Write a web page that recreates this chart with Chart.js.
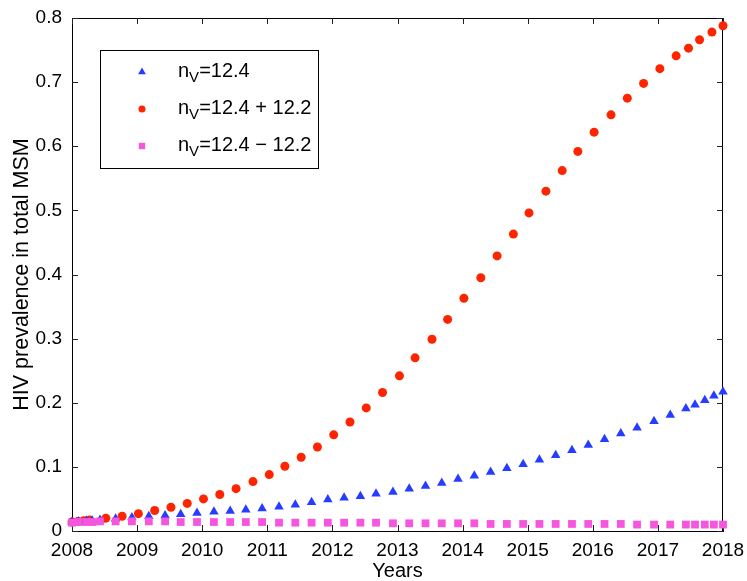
<!DOCTYPE html>
<html>
<head>
    <title>HIV prevalence</title>
    <script src="https://cdn.jsdelivr.net/npm/chart.js"></script>
    <style>
        body { margin: 0; background: #fff; }
        #wrap { width: 747px; height: 581px; }
    </style>
</head>
<body>
    <div id="wrap"><canvas id="myChart"></canvas></div>
    <script>
        // time points (years)
        const baseYears = [2008.0, 2008.1, 2008.22, 2008.31, 2008.43, 2008.67, 2008.92,
            2009.18, 2009.43, 2009.67, 2009.92, 2010.18, 2010.43, 2010.67, 2010.92,
            2011.18, 2011.43, 2011.68, 2011.93, 2012.18, 2012.43, 2012.67, 2012.93,
            2013.18, 2013.43, 2013.68, 2013.93, 2014.18, 2014.43, 2014.68, 2014.93,
            2015.18, 2015.43, 2015.68, 2015.93, 2016.18, 2016.43, 2016.68, 2016.94,
            2017.19, 2017.43, 2017.57, 2017.72, 2017.86, 2018.0];
        const baseValues = [0.014, 0.015, 0.016, 0.016, 0.017, 0.019, 0.021,
            0.023, 0.024, 0.026, 0.028, 0.030, 0.031, 0.033, 0.035,
            0.038, 0.041, 0.045, 0.049, 0.052, 0.054, 0.058, 0.061,
            0.066, 0.070, 0.075, 0.081, 0.086, 0.092, 0.098, 0.104,
            0.111, 0.118, 0.126, 0.134, 0.143, 0.152, 0.161, 0.171,
            0.181, 0.191, 0.197, 0.204, 0.211, 0.217];
        const lowValues = [0.013, 0.014, 0.014, 0.014, 0.015, 0.015, 0.015,
            0.015, 0.015, 0.014, 0.014, 0.014, 0.014, 0.014, 0.014,
            0.013, 0.013, 0.013, 0.013, 0.013, 0.013, 0.013, 0.012,
            0.012, 0.012, 0.012, 0.012, 0.012, 0.011, 0.011, 0.011,
            0.011, 0.011, 0.011, 0.011, 0.011, 0.011, 0.010, 0.010,
            0.010, 0.010, 0.010, 0.010, 0.010, 0.010];
        const highYears = [2008.0, 2008.09, 2008.18, 2008.27, 2008.52, 2008.77,
            2009.02, 2009.27, 2009.52, 2009.77, 2010.02, 2010.27, 2010.52, 2010.78,
            2011.03, 2011.27, 2011.52, 2011.77, 2012.02, 2012.27, 2012.52, 2012.77,
            2013.03, 2013.27, 2013.53, 2013.77, 2014.02, 2014.28, 2014.53, 2014.78,
            2015.02, 2015.28, 2015.53, 2015.77, 2016.02, 2016.28, 2016.53, 2016.78,
            2017.03, 2017.28, 2017.47, 2017.64, 2017.83, 2018.0];
        const highValues = [0.014, 0.015, 0.016, 0.017, 0.020, 0.023,
            0.027, 0.032, 0.037, 0.043, 0.050, 0.057, 0.066, 0.077,
            0.088, 0.101, 0.115, 0.131, 0.150, 0.170, 0.192, 0.216,
            0.242, 0.270, 0.299, 0.330, 0.363, 0.395, 0.429, 0.463,
            0.496, 0.530, 0.562, 0.592, 0.622, 0.649, 0.675, 0.698,
            0.721, 0.741, 0.753, 0.766, 0.778, 0.788];

        const seriesNames = ['=12.4', '=12.4 + 12.2', '=12.4 \u2212 12.2'];
        const xTicks = [2008, 2009, 2010, 2011, 2012, 2013, 2014, 2015, 2016, 2017, 2018];
        const yTicks = [0, 0.1, 0.2, 0.3, 0.4, 0.5, 0.6, 0.7, 0.8];

        const BLUE = 'rgb(38, 60, 255)';
        const RED = 'rgb(255, 36, 0)';
        const PINK = 'rgb(246, 86, 222)';
        const FONT = "'Liberation Sans', Arial, sans-serif";

        function toPoints(xs, ys) {
            return xs.map((x, i) => ({x: x, y: ys[i]}));
        }

        // inward ticks on all four sides + box, matlab style
        const boxTicks = {
            id: 'boxTicks',
            beforeDatasetsDraw(chart) {
                const {ctx, chartArea: a, scales} = chart;
                ctx.save();
                ctx.strokeStyle = '#000';
                ctx.lineWidth = 1;
                ctx.strokeRect(a.left + 0.5, a.top + 0.5, a.right - a.left - 1, a.bottom - a.top);
                ctx.strokeStyle = '#222';
                ctx.beginPath();
                const len = 6;
                xTicks.forEach(v => {
                    const px = Math.round(scales.x.getPixelForValue(v)) + 0.5;
                    ctx.moveTo(px, a.bottom); ctx.lineTo(px, a.bottom - len);
                    ctx.moveTo(px, a.top); ctx.lineTo(px, a.top + len);
                });
                yTicks.forEach(v => {
                    const py = Math.round(scales.y.getPixelForValue(v)) + 0.5;
                    ctx.moveTo(a.left, py); ctx.lineTo(a.left + len, py);
                    ctx.moveTo(a.right, py); ctx.lineTo(a.right - len, py);
                });
                ctx.stroke();
                ctx.restore();
            }
        };

        // legend with subscript V
        const subLegend = {
            id: 'subLegend',
            afterDraw(chart) {
                const ctx = chart.ctx;
                const box = {x: 100, y: 50, w: 218, h: 118};
                ctx.save();
                ctx.fillStyle = '#fff';
                ctx.fillRect(box.x, box.y, box.w, box.h);
                ctx.strokeStyle = '#000';
                ctx.lineWidth = 1;
                ctx.strokeRect(box.x + 0.5, box.y + 0.5, box.w, box.h);
                const styles = [
                    {c: BLUE, s: 'triangle', r: 4.5},
                    {c: RED, s: 'circle', r: 3.5},
                    {c: PINK, s: 'rect', r: 4.5}
                ];
                styles.forEach((st, i) => {
                    const cy = 72 + i * 37;
                    ctx.fillStyle = st.c;
                    Chart.helpers.drawPoint(ctx, {pointStyle: st.s, radius: st.r, borderWidth: 0, rotation: 0}, 142, cy);
                    ctx.fillStyle = '#000';
                    ctx.textBaseline = 'alphabetic';
                    ctx.textAlign = 'left';
                    let x = 178;
                    ctx.font = '20px ' + FONT;
                    ctx.fillText('n', x, cy + 5);
                    x += ctx.measureText('n').width;
                    ctx.font = '15px ' + FONT;
                    ctx.fillText('V', x, cy + 10);
                    x += ctx.measureText('V').width;
                    ctx.font = '20px ' + FONT;
                    ctx.fillText(seriesNames[i], x, cy + 5);
                });
                ctx.restore();
            }
        };

        const ctx = document.getElementById('myChart').getContext('2d');
        new Chart(ctx, {
            type: 'scatter',
            data: {
                datasets: [
                    {
                        label: 'nV' + seriesNames[0],
                        data: toPoints(baseYears, baseValues),
                        pointStyle: 'triangle',
                        pointRadius: 5.5,
                        backgroundColor: BLUE,
                        borderColor: BLUE,
                        borderWidth: 0,
                        clip: false,
                        order: 1
                    },
                    {
                        label: 'nV' + seriesNames[1],
                        data: toPoints(highYears, highValues),
                        pointStyle: 'circle',
                        pointRadius: 4.5,
                        backgroundColor: RED,
                        borderColor: RED,
                        borderWidth: 0,
                        clip: false,
                        order: 2
                    },
                    {
                        label: 'nV' + seriesNames[2],
                        data: toPoints(baseYears, lowValues),
                        pointStyle: 'rect',
                        pointRadius: 5.5,
                        backgroundColor: PINK,
                        borderColor: PINK,
                        borderWidth: 0,
                        clip: false,
                        order: 0
                    }
                ]
            },
            options: {
                responsive: true,
                maintainAspectRatio: false,
                animation: false,
                events: [],
                layout: {
                    padding: {top: 18, right: 24, left: 0, bottom: 0}
                },
                plugins: {
                    legend: {display: false},
                    tooltip: {enabled: false}
                },
                scales: {
                    x: {
                        type: 'linear',
                        min: 2008,
                        max: 2018,
                        afterFit: s => { s.height = 50; s.paddingLeft = 0; s.paddingRight = 0; },
                        afterBuildTicks: s => { s.ticks = xTicks.map(v => ({value: v})); },
                        ticks: {
                            callback: v => String(v),
                            color: '#000',
                            padding: 8,
                            maxRotation: 0,
                            autoSkip: false,
                            font: {family: FONT, size: 19}
                        },
                        grid: {drawOnChartArea: false, drawTicks: false},
                        border: {display: true, color: '#000', width: 1},
                        title: {
                            display: true,
                            text: 'Years',
                            color: '#000',
                            padding: {top: 0, bottom: 0},
                            font: {family: FONT, size: 20, lineHeight: 1}
                        }
                    },
                    y: {
                        min: 0,
                        max: 0.8,
                        afterFit: s => { s.width = 72; s.paddingTop = 0; s.paddingBottom = 0; },
                        afterBuildTicks: s => { s.ticks = yTicks.map(v => ({value: v})); },
                        ticks: {
                            callback: v => String(Math.round(v * 10) / 10),
                            color: '#000',
                            padding: 10,
                            font: {family: FONT, size: 19}
                        },
                        grid: {drawOnChartArea: false, drawTicks: false},
                        border: {display: true, color: '#000', width: 1},
                        title: {
                            display: true,
                            text: 'HIV prevalence in total MSM',
                            color: '#000',
                            padding: {top: 9, bottom: 0},
                            font: {family: FONT, size: 21.5, lineHeight: 1.2}
                        }
                    }
                }
            },
            plugins: [boxTicks, subLegend]
        });
    </script>
</body>
</html>
